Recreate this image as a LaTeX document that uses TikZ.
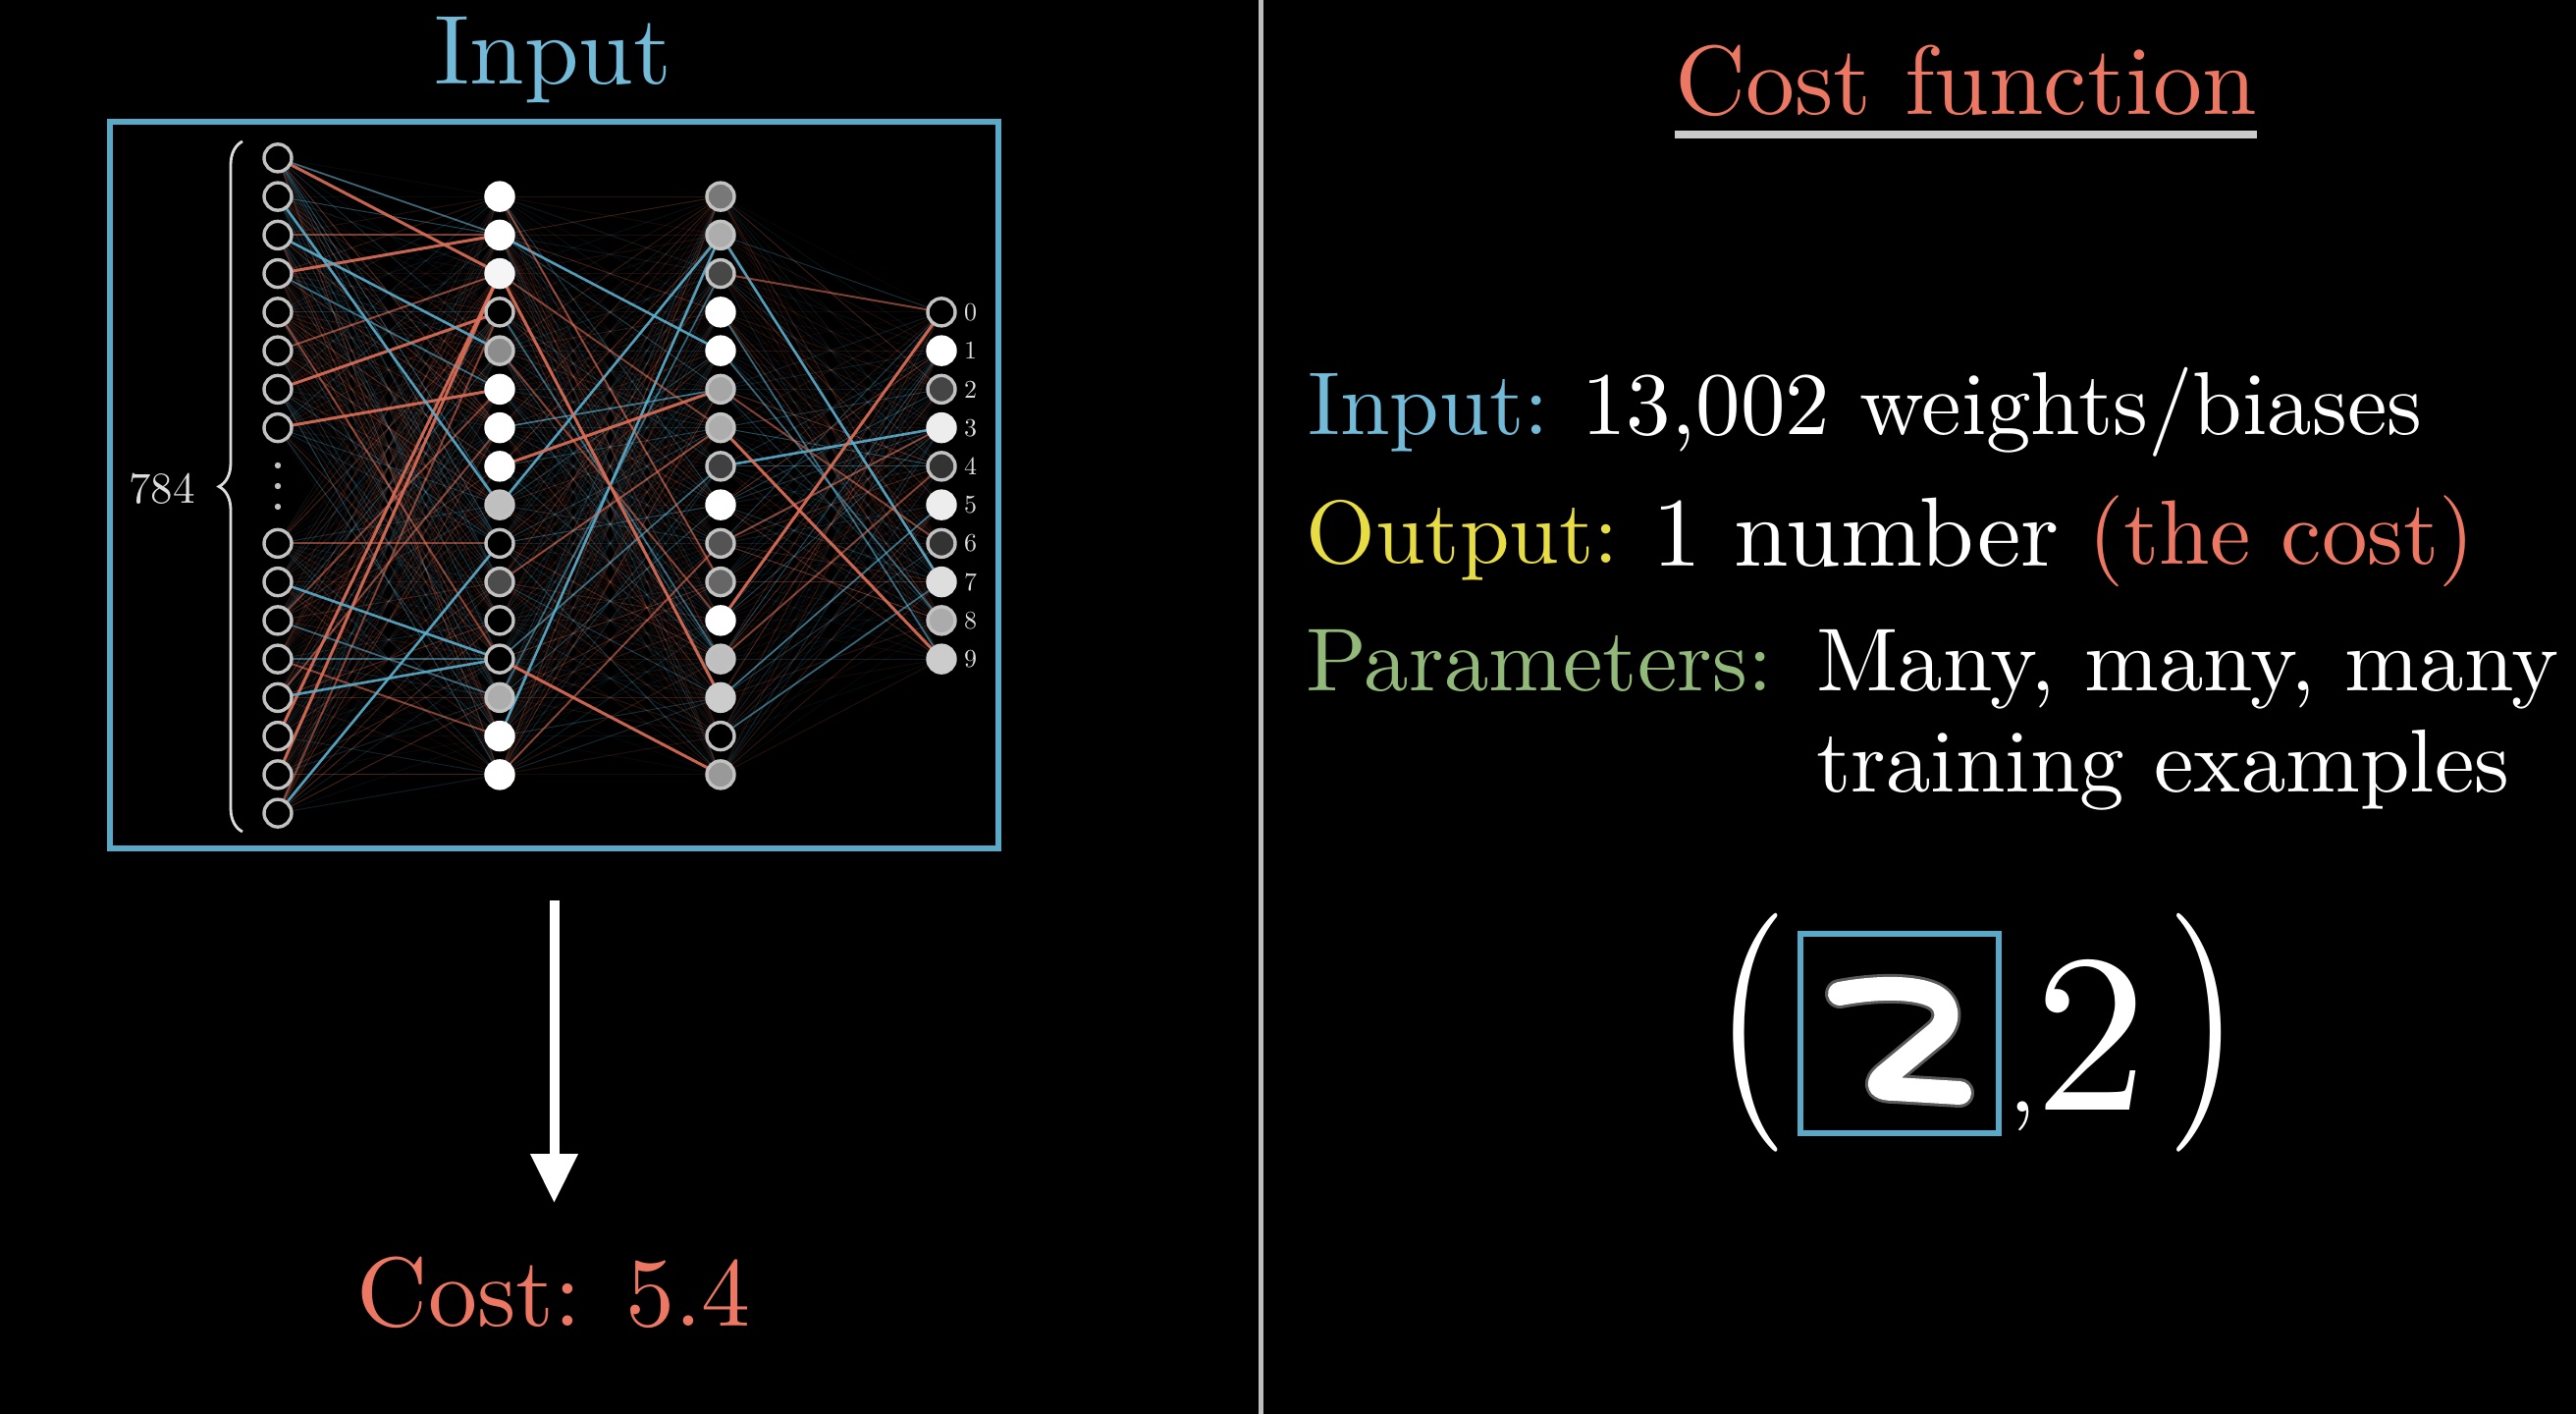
\documentclass[tikz,border=0pt]{standalone}
\usepackage{graphicx}
\usepackage{fontspec}
\setmainfont{lmroman10-regular.otf}
\usetikzlibrary{arrows.meta,decorations.pathreplacing}
\definecolor{boxcyan}{HTML}{5AA8C8}
\definecolor{txtcyan}{HTML}{72BAD8}
\definecolor{txtred}{HTML}{EC7762}
\definecolor{txtyellow}{HTML}{E8DC45}
\definecolor{txtgreen}{HTML}{92B97A}
\definecolor{edgered}{HTML}{DE6F58}
\definecolor{edgeblue}{HTML}{5AAECD}
\definecolor{ringgray}{HTML}{C2C2C2}
\definecolor{divgray}{HTML}{BDBDBD}
\definecolor{ulgray}{HTML}{CACACA}
\definecolor{lblgray}{HTML}{DDDDDD}
\pgfdeclarelayer{back}
\pgfdeclarelayer{edges}
\pgfsetlayers{back,edges,main}
\newcommand{\fsTitle}{\fontsize{50pt}{60pt}\selectfont}
\newcommand{\fsBody}{\fontsize{45.5pt}{54pt}\selectfont}
\newcommand{\fsParen}{\fontsize{121.5pt}{130pt}\selectfont}
\begin{document}
\begin{tikzpicture}[x=0.5pt,y=-0.5pt,
  neuron/.style={circle, inner sep=0pt, minimum size=14pt, line width=1.7pt},
  txt/.style={inner sep=0pt, anchor=base west, text=white, font=\fsBody},
  ttl/.style={inner sep=0pt, anchor=base, font=\fsTitle},
  faint/.style={line width=0.5pt},
  redS/.style={draw=edgered, line width=1.5pt, draw opacity=0.9},
  redM/.style={draw=edgered, line width=1pt, draw opacity=0.55},
  bluS/.style={draw=edgeblue, line width=1.3pt, draw opacity=0.9},
  bluM/.style={draw=edgeblue, line width=0.9pt, draw opacity=0.55},
  digitlbl/.style={inner sep=0pt, text=lblgray, font=\fontsize{13pt}{14pt}\selectfont, label distance=3.5pt}
]
\useasboundingbox (0,0) rectangle (2624,1440);
\begin{pgfonlayer}{back}
\fill[black] (0,0) rectangle (2624,1440);
\end{pgfonlayer}

% divider
\coordinate (divtop) at (1284,0);
\coordinate (divbot) at (1284,1440);
\draw[divgray, line width=2.5pt] (divtop) -- (divbot);

% ---------- left panel ----------
\node[ttl, text=txtcyan] (intitle) at (563.5,85) {Input};
\node[draw=boxcyan, line width=3pt, minimum width=452.5pt, minimum height=370pt, inner sep=0pt] (netbox) at (564.5,494) {};

% input layer
\foreach \i in {0,...,15}{
  \pgfmathsetmacro\yy{\i<8 ? 494.5+(\i-8.5)*39.25 : 494.5+(\i+2-8.5)*39.25}
  \node[neuron, fill=black, draw=ringgray] (a\i) at (283,\yy) {};
}
\foreach \yy in {474,495,516}{\fill[ringgray] (283,\yy) circle (1.6pt);}

% hidden layer 1
\foreach \j/\f in {0/100,1/100,2/96,3/0,4/55,5/100,6/100,7/100,8/75,9/0,10/30,11/0,12/0,13/68,14/100,15/100}{
  \pgfmathsetmacro\yy{494.5+(\j-7.5)*39.25}
  \pgfmathtruncatemacro\rg{max(\f,76)}
  \node[neuron, fill=white!\f!black, draw=white!\rg!black] (b\j) at (509,\yy) {};
}
% hidden layer 2
\foreach \j/\f in {0/47,1/68,2/28,3/100,4/100,5/65,6/68,7/25,8/100,9/33,10/40,11/100,12/75,13/80,14/0,15/60}{
  \pgfmathsetmacro\yy{494.5+(\j-7.5)*39.25}
  \pgfmathtruncatemacro\rg{max(\f,76)}
  \node[neuron, fill=white!\f!black, draw=white!\rg!black] (c\j) at (734,\yy) {};
}
% output layer
\foreach \j/\f in {0/0,1/100,2/27,3/93,4/20,5/93,6/20,7/87,8/67,9/80}{
  \pgfmathsetmacro\yy{494.5+(\j-4.5)*39.25}
  \pgfmathtruncatemacro\rg{max(\f,76)}
  \node[neuron, fill=white!\f!black, draw=white!\rg!black, label={[digitlbl]right:\j}] (d\j) at (959,\yy) {};
}

% edges
\begin{pgfonlayer}{edges}
\pgfmathsetseed{3}
\foreach \p/\q/\n/\m in {a/b/15/15, b/c/15/15, c/d/15/9}{
  \foreach \i in {0,...,\n}{
    \foreach \j in {0,...,\m}{
      \pgfmathsetmacro\op{0.05+0.4*rnd*rnd}
      \pgfmathtruncatemacro\cc{rnd<0.58 ? 1 : 0}
      \ifnum\cc=1\relax \colorlet{ecol}{edgered}\else\colorlet{ecol}{edgeblue}\fi
      \draw[faint, draw=ecol, draw opacity=\op] (\p\i.center) -- (\q\j.center);
    }}}
\foreach \s/\t/\st in {a0/b2/redS, a3/b1/redS, a6/b3/redS, a7/b5/redS, a8/b9/redM, a13/b2/redS, a14/b2/redS, a15/b3/redM, a12/b6/redM, a4/b12/redM, a2/b1/redM, a5/b2/redM, a10/b5/redM, a11/b14/redM,
  a1/b8/bluS, a2/b4/bluS, a9/b12/bluS, a12/b12/bluS, a15/b9/bluS, a11/b12/bluM, a10/b13/bluM, a3/b5/bluM, a0/b1/bluM,
  b1/c4/bluS, b8/c1/bluS, b14/c1/bluS, b6/c5/bluM, b12/c7/bluM, b13/c2/bluM, b3/c12/bluM,
  b7/c5/redS, b2/c13/redS, b12/c15/redS, b10/c6/redM, b4/c11/redM, b15/c9/redM, b2/c6/redM, b0/c10/redM,
  c7/d3/bluS, c1/d7/bluS, c4/d8/bluM, c14/d7/bluM, c13/d5/bluM, c3/d9/bluM,
  c6/d9/redS, c11/d0/redS, c12/d4/redM, c2/d0/redM, c5/d6/redM, c9/d3/redM}{
  \draw[\st] (\s.center) -- (\t.center);
}
\end{pgfonlayer}

% brace and 784
\coordinate (brbot) at (247,847);
\coordinate (brtop) at (247,144);
\draw[lblgray, line width=1.4pt, decorate, decoration={brace, amplitude=12pt}] (brbot) -- (brtop);
\node[inner sep=0pt, text=lblgray, font=\fontsize{22.5pt}{24pt}\selectfont] (n784) at (165,498) {784};

% cost
\node[ttl, text=txtred] (cost) at (564.5,1350) {Cost:\hspace{0.45em}5.4};
\draw[white, line width=5pt, -{Triangle[width=23pt,length=25pt]}, shorten <=25pt, shorten >=27pt] (netbox.south) -- (netbox.south |- cost.north);

% ---------- right panel ----------
\node[ttl, text=txtred] (cftitle) at (2002.5,116) {Cost function};
\draw[ulgray, line width=4pt] ([yshift=-10.5pt]cftitle.base west) -- ([yshift=-10.5pt]cftitle.base east);

\node[txt, text=txtcyan] (inlbl) at (1332,442) {Input:};
\node[txt] (inval) at (1611,442) {13,002 weights/biases};
\node[txt, text=txtyellow] (outlbl) at (1330,573) {Output:};
\node[txt, font=\fontsize{50pt}{60pt}\selectfont] (outval) at (1683,576) {1 number};
\node[txt, text=txtred, font=\fontsize{46.5pt}{56pt}\selectfont] (outcost) at (2127,574) {(the cost)};
\node[txt, text=txtgreen] (parlbl) at (1330,703) {Parameters:};
\node[txt] (parval) at (1850,703) {Many, many, many};
\node[txt] (parval2) at (1850,806) {training examples};

% (image, 2)
\node[inner sep=0pt, anchor=base, text=white, font=\fsParen] (lpar) at (1784.3,1112) {\scalebox{0.8}[1]{(}};
\node[inner sep=0pt, anchor=base, text=white, font=\fsParen] (rpar) at (2244.6,1112) {\scalebox{0.8}[1]{)}};
\node[draw=boxcyan, line width=3pt, minimum width=101pt, minimum height=101.5pt, inner sep=0pt] (img) at (1935,1052.5) {};
\node[inner sep=0pt, anchor=base, text=white, font=\fsTitle] (comma) at (2060,1132) {,};
\node[inner sep=0pt, anchor=base, text=white, font=\fontsize{115pt}{120pt}\selectfont] (two) at (2130,1130) {2};
\draw[white!70!black, line width=15pt, line cap=round, line join=round, opacity=0.5]
  (1874,1012) .. controls (1905,1006) and (1945,1004) .. (1967,1013)
  .. controls (1985,1020) and (1988,1040) .. (1972,1053) -- (1920,1096)
  .. controls (1910,1105) and (1915,1109) .. (1930,1109) -- (1996,1113);
\draw[white, line width=12pt, line cap=round, line join=round]
  (1874,1012) .. controls (1905,1006) and (1945,1004) .. (1967,1013)
  .. controls (1985,1020) and (1988,1040) .. (1972,1053) -- (1920,1096)
  .. controls (1910,1105) and (1915,1109) .. (1930,1109) -- (1996,1113);
\end{tikzpicture}
\end{document}
